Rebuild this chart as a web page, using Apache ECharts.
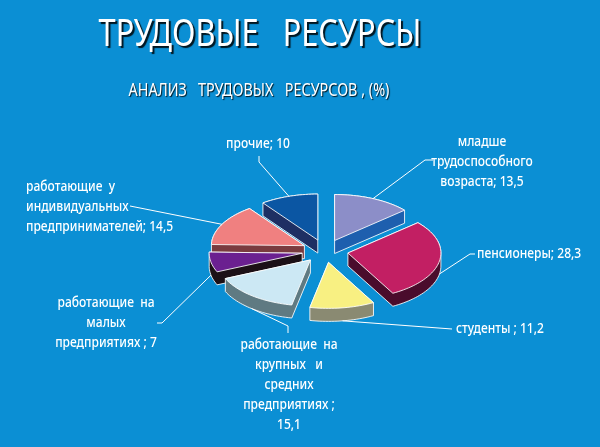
<!DOCTYPE html>
<html>
<head>
<meta charset="utf-8">
<script src="https://cdn.jsdelivr.net/npm/echarts@6/dist/echarts.min.js"></script>
<style>
  html, body { margin: 0; padding: 0; background: #0b8fd4; }
  #chart { width: 600px; height: 447px; }
</style>
</head>
<body>
<div id="chart"></div>
<script>
// данные
var names = ['младше\nтрудоспособного\nвозраста', 'пенсионеры', 'студенты', 'работающие  на\nкрупных   и\nсредних\nпредприятиях', 'работающие  на\nмалых\nпредприятиях', 'работающие  у\nиндивидуальных\nпредпринимателей', 'прочие'];
var values = [13.5, 28.3, 11.2, 15.1, 7, 14.5, 10];
var separators = ['; ', '; ', ' ; ', ' ;\n', ' ; ', '; ', '; '];
var topColors = ['#8c8ec8', '#c21f63', '#f8f082', '#cce8f4', '#6b2090', '#f08080', '#0b56a3'];
var sideColors = ['#1e5fae', '#4a0c2c', '#8a8a72', '#5f7a82', '#1c1016', '#7a3b3f', '#1e2f63'];

// подписи: [x, y, выравнивание], линии-выноски (начало), конец считается по сектору
var labelLayout = [[482, 132, 'center'], [477, 254, 'left'], [456, 329, 'left'], [289, 335, 'center'], [106, 293, 'center'], [26, 177, 'left'], [258, 144, 'center']];
var leaderStart = [[[433, 160], [425, 160]], [[475, 254], [470, 254]], [[452, 329]], [[288, 333], [288, 326]], [[157, 323], [162, 323]], [[130, 206]], [[259, 156], [259, 162]]];

var CX = 325, CY = 251, RX = 93, RY = 46, DEPTH = 13, EXPLODE = 0.25;
var FONT = "'Noto Sans', sans-serif";
var NARROW = 0.83; // шрифт в оригинале узкий

var total = values.reduce(function (s, v) { return s + v; }, 0);
var startAngles = [];
var acc = 90;
values.forEach(function (v) {
  startAngles.push(acc);
  acc -= v / total * 360;
});

function hull(pts) {
  var p = pts.slice().sort(function (a, b) { return a[0] - b[0] || a[1] - b[1]; });
  function cross(o, a, b) { return (a[0] - o[0]) * (b[1] - o[1]) - (a[1] - o[1]) * (b[0] - o[0]); }
  function half(list) {
    var h = [];
    list.forEach(function (q) {
      while (h.length >= 2 && cross(h[h.length - 2], h[h.length - 1], q) <= 0) h.pop();
      h.push(q);
    });
    h.pop();
    return h;
  }
  return half(p).concat(half(p.slice().reverse()));
}

function renderSlice(params, api) {
  var i = params.dataIndex;
  var v = api.value(0);
  var a0 = startAngles[i];
  var a1 = a0 - v / total * 360;
  var mid = (a0 + a1) / 2 * Math.PI / 180;
  var ax = CX + EXPLODE * RX * Math.cos(mid);
  var ay = CY - EXPLODE * RY * Math.sin(mid);

  var top = [[ax, ay]];
  var n = Math.max(4, Math.ceil((a0 - a1) / 2));
  for (var k = 0; k <= n; k++) {
    var t = (a0 + (a1 - a0) * k / n) * Math.PI / 180;
    top.push([ax + RX * Math.cos(t), ay - RY * Math.sin(t)]);
  }
  var bottom = top.map(function (p) { return [p[0], p[1] + DEPTH]; });
  var side = hull(top.concat(bottom));

  var ex = ax + RX * Math.cos(mid);
  var ey = ay - RY * Math.sin(mid) + (Math.sin(mid) < 0 ? DEPTH : 0);
  var line = leaderStart[i].concat([[ex, ey]]);
  var lay = labelLayout[i];
  var z = Math.round((1 - Math.sin(mid)) * 10);
  var single = names[i].indexOf('\n') < 0;

  return {
    type: 'group',
    children: [
      { type: 'polygon', z2: z, shape: { points: side }, style: { fill: sideColors[i], stroke: 'rgba(255,255,255,0.85)', lineWidth: 1 } },
      { type: 'polygon', z2: z + 1, shape: { points: top }, style: { fill: topColors[i], stroke: 'rgba(255,255,255,0.85)', lineWidth: 1 } },
      { type: 'polyline', z2: 100, shape: { points: line }, style: { stroke: '#ffffff', lineWidth: 1, fill: null } },
      {
        type: 'text', z2: 100, x: lay[0], y: lay[1], scaleX: NARROW,
        style: {
          text: names[i] + separators[i] + String(v).replace('.', ','),
          fill: '#ffffff', font: '500 14.5px ' + FONT, align: lay[2], verticalAlign: single ? 'middle' : 'top',
          lineHeight: 20
        }
      }
    ]
  };
}

var chart = echarts.init(document.getElementById('chart'));
chart.setOption({
  backgroundColor: '#0b8fd4',
  graphic: [{
    type: 'text', x: 260, y: 16, scaleX: 0.81,
    style: {
      text: 'ТРУДОВЫЕ   РЕСУРСЫ', fill: '#ffffff', font: '38px ' + FONT, align: 'center', verticalAlign: 'top',
      textShadowColor: 'rgba(0,0,0,0.85)', textShadowOffsetX: 2, textShadowOffsetY: 2, textShadowBlur: 1
    }
  }, {
    type: 'text', x: 259, y: 82, scaleX: 0.8,
    style: {
      text: 'АНАЛИЗ   ТРУДОВЫХ   РЕСУРСОВ , (%)', fill: '#ffffff', font: '18px ' + FONT, align: 'center', verticalAlign: 'top',
      textShadowColor: 'rgba(0,0,0,0.85)', textShadowOffsetX: 1, textShadowOffsetY: 1, textShadowBlur: 1
    }
  }],
  series: [{
    type: 'custom',
    coordinateSystem: 'none',
    renderItem: renderSlice,
    data: values.map(function (v, i) { return { value: v, name: names[i] }; }),
    animation: false
  }]
});
</script>
</body>
</html>
